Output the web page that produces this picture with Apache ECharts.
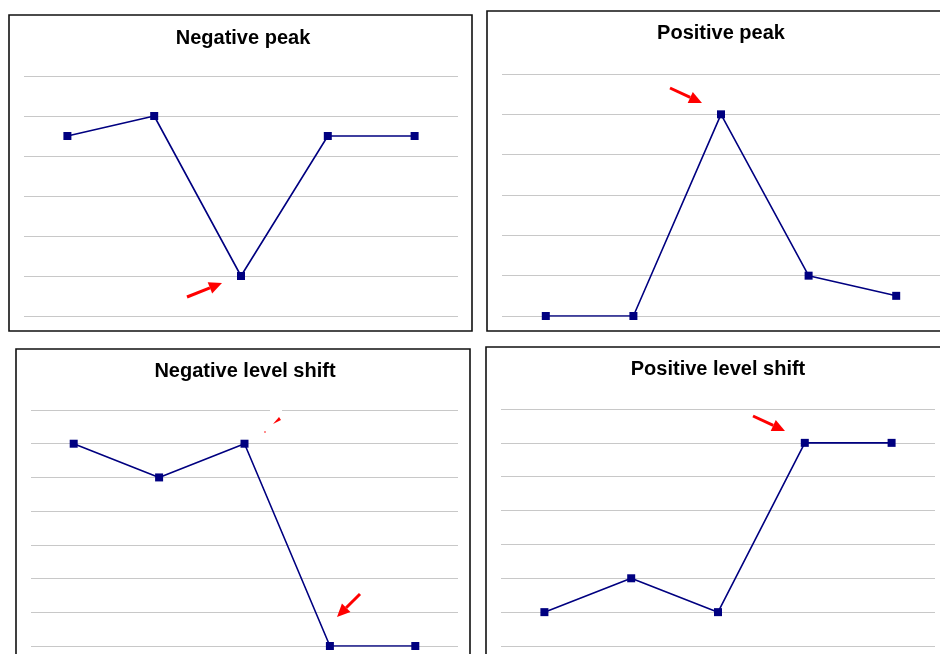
<!DOCTYPE html>
<html>
<head>
<meta charset="utf-8">
<style>
  html, body { margin: 0; padding: 0; background: #fff; }
  #chart { width: 940px; height: 654px; }
</style>
<script src="https://cdn.jsdelivr.net/npm/echarts@6/dist/echarts.min.js"></script>
</head>
<body>
<div id="chart"></div>
<script>
const categories = ['1', '2', '3', '4', '5'];
const titles = ['Negative peak', 'Positive peak', 'Negative level shift', 'Positive level shift'];
const negativePeak = [4.5, 5, 1, 4.5, 4.5];
const positivePeak = [0, 0, 5, 1, 0.5];
const negativeShift = [6, 5, 6, 0, 0];
const positiveShift = [1, 2, 1, 6, 6];
const yMax = [6, 6, 7, 7];

const seriesData = [negativePeak, positivePeak, negativeShift, positiveShift];

// panel layout: frame box, plot area, title centre
const panels = [
  {box: [9, 15, 463, 316], grid: {left: 24, top: 76, width: 434, height: 240}, title: [243, 28]},
  {box: [487, 11, 470, 320], grid: {left: 502, top: 74, width: 438, height: 242}, title: [721, 23]},
  {box: [16, 349, 454, 320], grid: {left: 31, top: 410, width: 427, height: 236}, title: [245, 361]},
  {box: [486, 347, 470, 320], grid: {left: 501, top: 409, width: 434, height: 237}, title: [718, 359]}
];

function arrow(x1, y1, x2, y2) {
  const ang = Math.atan2(y2 - y1, x2 - x1);
  const len = 13, half = 6;
  const bx = x2 - len * Math.cos(ang), by = y2 - len * Math.sin(ang);
  const px = -Math.sin(ang) * half, py = Math.cos(ang) * half;
  return [
    {type: 'line', z: 100, shape: {x1: x1, y1: y1, x2: bx, y2: by},
      style: {stroke: '#ff0000', lineWidth: 3}},
    {type: 'polygon', z: 100,
      shape: {points: [[x2, y2], [bx + px, by + py], [bx - px, by - py]]},
      style: {fill: '#ff0000'}}
  ];
}

const chart = echarts.init(document.getElementById('chart'));

const graphics = [];
panels.forEach(p => {
  graphics.push({
    type: 'rect', z: 50,
    shape: {x: p.box[0], y: p.box[1], width: p.box[2], height: p.box[3]},
    style: {fill: 'none', stroke: '#111', lineWidth: 1.6}
  });
});
graphics.push(...arrow(187, 297, 222, 283));
graphics.push(...arrow(670, 88, 702, 103));
graphics.push(...arrow(360, 594, 337, 617));
graphics.push(...arrow(753, 416, 785, 431));
// clipped arrow fragment in the third panel
graphics.push({type: 'rect', z: 90, shape: {x: 270, y: 407, width: 12, height: 6}, style: {fill: '#fff'}});
graphics.push({type: 'polygon', z: 100, shape: {points: [[273, 424], [279, 417], [281, 420]]},
  style: {fill: '#ff0000'}});
graphics.push({type: 'circle', z: 100, shape: {cx: 265, cy: 432, r: 0.8}, style: {fill: '#ff0000'}});

chart.setOption({
  animation: false,
  backgroundColor: '#fff',
  title: panels.map((p, i) => ({
    text: titles[i],
    left: p.title[0],
    top: p.title[1],
    textAlign: 'center',
    padding: 0,
    textStyle: {fontFamily: 'Liberation Sans', fontWeight: 'bold', fontSize: 20, color: '#000'}
  })),
  grid: panels.map(p => Object.assign({}, p.grid)),
  xAxis: panels.map((p, i) => ({
    type: 'category',
    gridIndex: i,
    data: categories,
    boundaryGap: true,
    axisLine: {show: false},
    axisTick: {show: false},
    axisLabel: {show: false}
  })),
  yAxis: panels.map((p, i) => ({
    type: 'value',
    gridIndex: i,
    min: 0,
    max: yMax[i],
    interval: 1,
    axisLine: {show: false},
    axisTick: {show: false},
    axisLabel: {show: false},
    splitLine: {lineStyle: {color: '#c8c8c8', width: 1}}
  })),
  series: seriesData.map((d, i) => ({
    type: 'line',
    xAxisIndex: i,
    yAxisIndex: i,
    data: d,
    symbol: 'rect',
    symbolSize: 8,
    lineStyle: {color: '#000080', width: 1.6},
    itemStyle: {color: '#000080'}
  })),
  graphic: graphics
});
</script>
</body>
</html>
